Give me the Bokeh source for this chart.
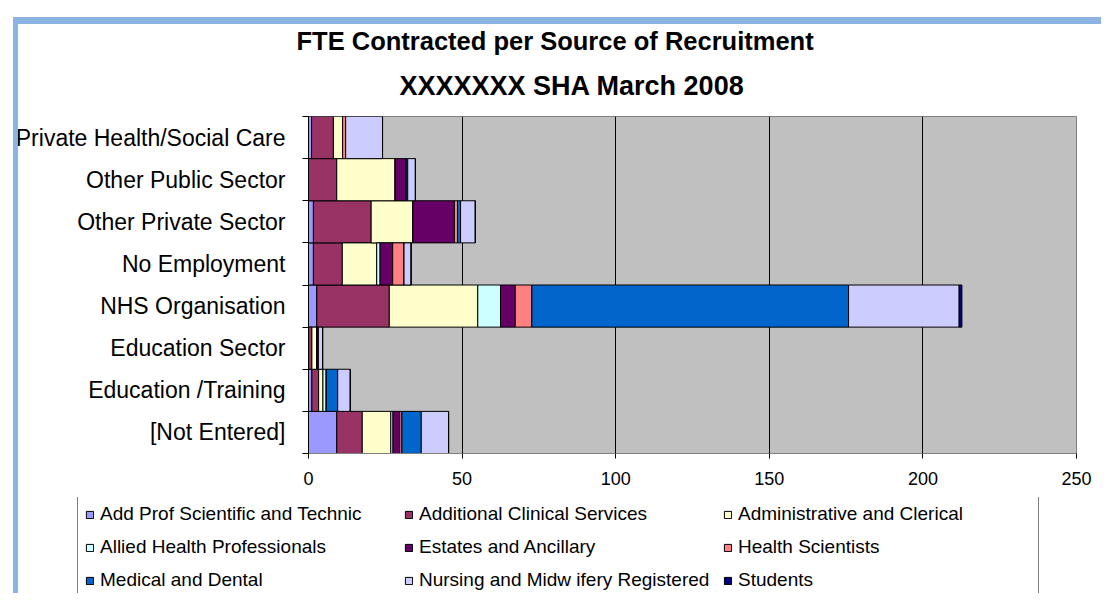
from bokeh.plotting import figure
from bokeh.layouts import column
from bokeh.models import (ColumnDataSource, FixedTicker, Legend, LegendItem, Title,
                          Range1d, InlineStyleSheet)
from bokeh.embed import file_html
from bokeh.resources import INLINE

categories = ["[Not Entered]", "Education /Training", "Education Sector", "NHS Organisation",
              "No Employment", "Other Private Sector", "Other Public Sector",
              "Private Health/Social Care"]

series_names = ["Add Prof Scientific and Technic", "Additional Clinical Services",
                "Administrative and Clerical", "Allied Health Professionals",
                "Estates and Ancillary", "Health Scientists", "Medical and Dental",
                "Nursing and Midw ifery Registered", "Students"]

add_prof   = [9.2, 1.1, 0.0, 2.7, 1.6, 1.6, 0.0, 1.0]
add_clin   = [8.3, 2.2, 1.1, 23.6, 9.4, 18.8, 9.2, 7.1]
admin      = [9.3, 1.4, 1.6, 28.8, 11.2, 13.6, 19.0, 3.0]
allied     = [0.7, 1.1, 0.0, 7.4, 1.1, 0.0, 0.0, 0.0]
estates    = [2.2, 0.0, 0.5, 4.8, 4.1, 13.5, 3.6, 0.0]
health_sci = [0.7, 0.0, 0.0, 5.4, 3.7, 1.0, 0.0, 1.0]
medical    = [6.3, 3.7, 0.0, 103.1, 0.0, 1.0, 0.5, 0.0]
nursing    = [8.9, 4.1, 1.4, 36.0, 2.3, 4.8, 2.5, 12.0]
students   = [0.0, 0.0, 0.0, 0.9, 0.0, 0.0, 0.0, 0.0]

x_ticks = [0, 50, 100, 150, 200, 250]

colors = ["#9999FF", "#993366", "#FFFFCC", "#CCFFFF", "#660066", "#FF8080",
          "#0066CC", "#CCCCFF", "#000080"]

keys = ["add_prof", "add_clin", "admin", "allied", "estates", "health_sci",
        "medical", "nursing", "students"]
series = [add_prof, add_clin, admin, allied, estates, health_sci, medical, nursing, students]

ypos = [i + 0.5 for i in range(len(categories))]
data = {"y": ypos}
for k, s in zip(keys, series):
    data[k] = s
source = ColumnDataSource(data)

FONT = "Liberation Sans"
BAND = "#8CB4E3"

css_top = InlineStyleSheet(css=f"""
:host::before {{ content: ""; position: absolute; left: 13px; top: 17px; width: 5px;
  height: 480px; background: {BAND}; z-index: 50; pointer-events: none; }}
:host::after {{ content: ""; position: absolute; left: 13px; top: 17px; width: 1088px;
  height: 7px; background: {BAND}; z-index: 50; pointer-events: none; }}
""")
css_bottom = InlineStyleSheet(css=f"""
:host::before {{ content: ""; position: absolute; left: 13px; top: 0px; width: 5px;
  height: 96px; background: {BAND}; z-index: 50; pointer-events: none; }}
""")

# ---------------- chart ----------------
p = figure(width=1101, height=497, output_backend="svg", toolbar_location=None,
           title=None, x_range=Range1d(0, 250), y_range=Range1d(0, len(categories)),
           min_border_left=308, min_border_right=25, min_border_top=116,
           min_border_bottom=44, stylesheets=[css_top])
p.frame_align = False

p.background_fill_color = "#C0C0C0"
p.border_fill_color = "white"
p.outline_line_color = "#808080"
p.outline_line_width = 1

renderers = p.hbar_stack(keys, y="y", height=1.0, color=colors, line_color="black",
                         line_width=1, source=source)

p.xaxis.ticker = FixedTicker(ticks=x_ticks)
p.xaxis.major_label_text_font = FONT
p.xaxis.major_label_text_font_size = "18px"
p.xaxis.major_label_text_color = "black"
p.xaxis.axis_line_color = "#808080"
p.xaxis.major_tick_line_color = "black"
p.xaxis.major_tick_out = 5
p.xaxis.major_tick_in = 0
p.xaxis.minor_tick_line_color = None
p.xaxis.major_label_standoff = 13

p.yaxis.ticker = FixedTicker(ticks=ypos, minor_ticks=list(range(len(categories) + 1)))
p.yaxis.major_label_overrides = {y: c for y, c in zip(ypos, categories)}
p.yaxis.major_label_text_font = FONT
p.yaxis.major_label_text_font_size = "23px"
p.yaxis.major_label_text_color = "black"
p.yaxis.axis_line_color = "black"
p.yaxis.major_tick_out = 0
p.yaxis.major_tick_in = 0
p.yaxis.minor_tick_out = 6
p.yaxis.minor_tick_in = 0
p.yaxis.minor_tick_line_color = "black"
p.yaxis.major_label_standoff = 17

p.xgrid.ticker = FixedTicker(ticks=x_ticks)
p.xgrid.grid_line_color = "black"
p.xgrid.grid_line_width = 1
p.ygrid.grid_line_color = None

t2 = Title(text="XXXXXXX SHA March 2008", align="left", offset=91,
           text_font=FONT, text_font_size="27px", text_font_style="bold",
           text_color="black", standoff=32)
t1 = Title(text="FTE Contracted per Source of Recruitment", align="left", offset=-12,
           text_font=FONT, text_font_size="25.5px", text_font_style="bold",
           text_color="black", standoff=-5)
p.add_layout(t2, "above")
p.add_layout(t1, "above")

# ---------------- legend strip ----------------
pl = figure(width=1101, height=96, output_backend="svg", toolbar_location=None,
            title=None, x_range=Range1d(0, 1), y_range=Range1d(0, 1),
            x_axis_location=None, y_axis_location=None, min_border=0,
            stylesheets=[css_bottom])
pl.frame_align = False
pl.background_fill_color = "white"
pl.border_fill_color = "white"
pl.outline_line_color = None
pl.grid.visible = False

legend_renderers = []
for c in colors:
    r = pl.hbar(y=[5], right=[5], left=[4], height=1.0, fill_color=c,
                line_color="black", line_width=1)
    legend_renderers.append(r)

items = [LegendItem(label=n, renderers=[r]) for n, r in zip(series_names, legend_renderers)]
legend = Legend(items=items, orientation="horizontal", ncols=3, location=(77, -6))
legend.label_text_font = FONT
legend.label_text_font_size = "19px"
legend.label_text_color = "black"
legend.label_width = 293
legend.label_height = 22
legend.glyph_width = 9
legend.glyph_height = 9
legend.label_standoff = 6
legend.spacing = 11
legend.padding = 7
legend.margin = 0
legend.border_line_color = "black"
legend.border_line_width = 1
legend.background_fill_color = "white"
legend.background_fill_alpha = 1
pl.add_layout(legend, "center")

layout = column(p, pl, spacing=0)

open("out.html", "w").write(file_html(layout, INLINE))
